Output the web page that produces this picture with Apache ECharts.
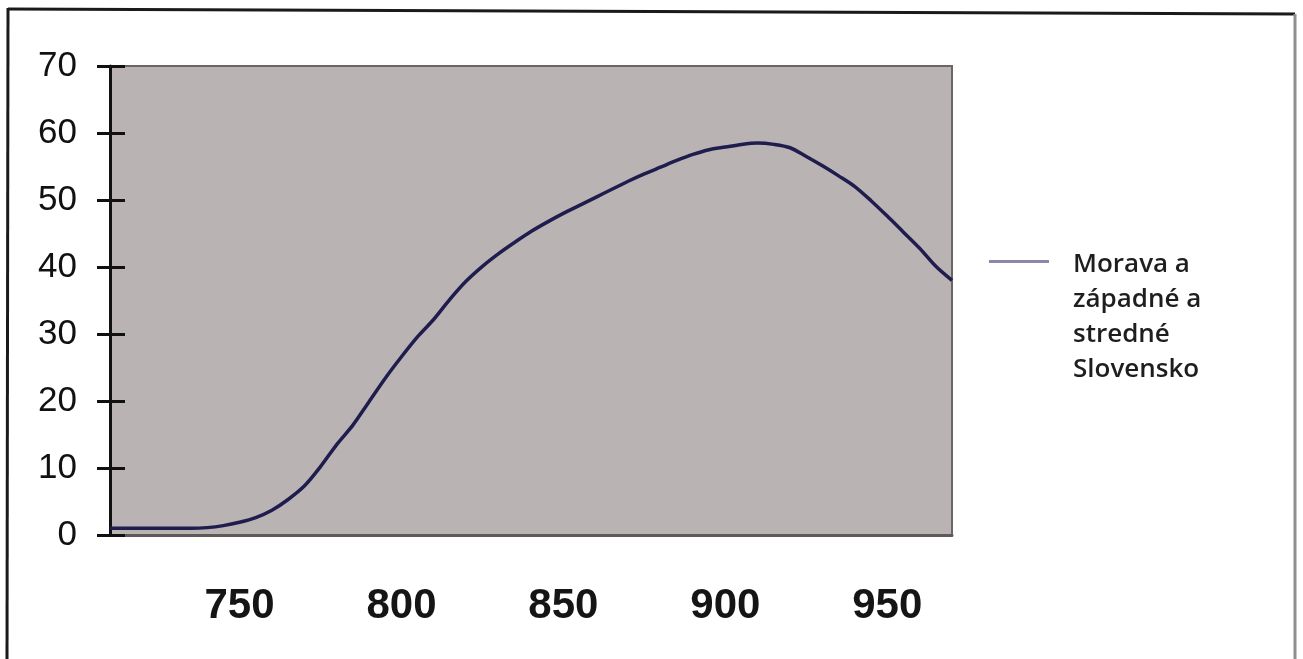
<!DOCTYPE html>
<html>
<head>
<meta charset="utf-8">
<script src="https://cdn.jsdelivr.net/npm/echarts@6/dist/echarts.min.js"></script>
<style>
html,body{margin:0;padding:0;background:#fff;}
#chart{width:1303px;height:659px;}
</style>
</head>
<body>
<div id="chart"></div>
<script>
var seriesName = 'Morava a západné a stredné Slovensko';
var legendLines = ['Morava a', 'západné a', 'stredné', 'Slovensko'];
var xValues = [710,715,720,725,730,735,740,745,750,755,760,765,770,775,780,785,790,795,800,805,810,815,820,825,830,835,840,845,850,855,860,865,870,875,880,885,890,895,900,905,910,915,920,925,930,935,940,945,950,955,960,965,970];
var yValues = [1.0,1.0,1.0,1.0,1.0,1.0,1.1,1.4,1.9,2.6,3.7,5.3,7.3,10.2,13.5,16.4,19.9,23.4,26.6,29.6,32.2,35.2,37.9,40.1,42.0,43.7,45.3,46.7,48.0,49.2,50.4,51.6,52.8,53.9,54.9,55.9,56.8,57.5,57.9,58.3,58.5,58.3,57.8,56.5,55.1,53.6,52.0,49.9,47.6,45.2,42.8,40.1,38.0];
var xTickLabels = [750, 800, 850, 900, 950];
var yTickLabels = [0, 10, 20, 30, 40, 50, 60, 70];

var points = xValues.map(function (x, i) { return [x, yValues[i]]; });

var chart = echarts.init(document.getElementById('chart'));
chart.setOption({
  backgroundColor: '#ffffff',
  animation: false,
  grid: {
    left: 110, top: 66, right: 351, bottom: 124,
    show: true, backgroundColor: '#bab3b3', borderColor: '#6a6666', borderWidth: 2
  },
  xAxis: {
    type: 'value', min: 710, max: 970,
    axisLine: { show: true, lineStyle: { color: '#5e5a5a', width: 3 } },
    axisTick: { show: false },
    splitLine: { show: false },
    axisLabel: {
      customValues: xTickLabels,
      margin: 50,
      fontFamily: 'Liberation Sans, Arial, sans-serif',
      fontWeight: 'bold', fontSize: 42, color: '#151515'
    }
  },
  yAxis: [{
    type: 'value', min: 0, max: 70, interval: 10,
    axisLine: { show: true, lineStyle: { color: '#111', width: 3 } },
    axisTick: { show: true, inside: false, length: 13, lineStyle: { color: '#111', width: 3 } },
    splitLine: { show: false },
    axisLabel: {
      margin: 33,
      fontFamily: 'Liberation Sans, Arial, sans-serif',
      fontSize: 35, color: '#111',
      formatter: function (v) { return yTickLabels.indexOf(v) >= 0 ? String(v) : ''; }
    }
  }, {
    type: 'value', min: 0, max: 70, interval: 10, position: 'left',
    axisLine: { show: false },
    axisTick: { show: true, inside: true, length: 15, lineStyle: { color: '#111', width: 3 } },
    splitLine: { show: false },
    axisLabel: { show: false }
  }],
  legend: {
    orient: 'vertical', left: 989, top: 247, padding: 0,
    itemWidth: 79, itemHeight: 114,
    icon: 'path://M0,0H60V3H0Z M78.9,113.9H79V114H78.9Z',
    itemStyle: { color: '#8d86aa', borderWidth: 0 },
    formatter: function () { return legendLines.join('\n'); },
    textStyle: {
      fontFamily: 'Open Sans, Noto Sans, sans-serif', fontWeight: 600,
      fontSize: 26, lineHeight: 35, color: '#1e1e1e'
    },
    selectedMode: false
  },
  series: [{
    name: seriesName,
    type: 'line',
    data: points,
    smooth: 0.3,
    showSymbol: false,
    lineStyle: { color: '#1e1d4e', width: 3.5 },
    itemStyle: { color: '#1e1d4e' }
  }],
  graphic: [
    { type: 'line', shape: { x1: 8, y1: 9, x2: 1295, y2: 14 }, style: { stroke: '#1a1a1a', lineWidth: 3 }, silent: true },
    { type: 'line', shape: { x1: 8, y1: 8, x2: 7, y2: 659 }, style: { stroke: '#1a1a1a', lineWidth: 3 }, silent: true },
    { type: 'line', shape: { x1: 1295, y1: 14, x2: 1295, y2: 659 }, style: { stroke: '#8f8f8f', lineWidth: 3 }, silent: true }
  ]
});
</script>
</body>
</html>
